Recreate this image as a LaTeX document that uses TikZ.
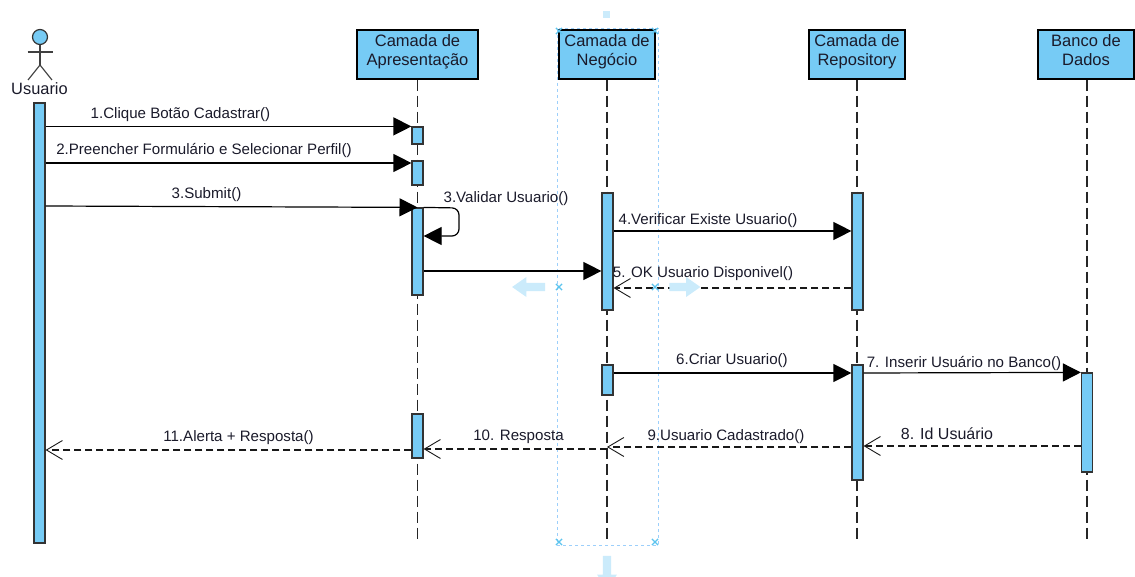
\documentclass[tikz,border=0pt]{standalone}
\usepackage{fontspec}
\setmainfont{Liberation Sans}
\usepackage{xcolor}
\usetikzlibrary{arrows.meta,shapes.misc,shapes.arrows}

\definecolor{barblue}{HTML}{76CBF5}
\definecolor{selblue}{HTML}{9CCFFB}
\definecolor{handleblue}{HTML}{CBEBFB}
\definecolor{marksblue}{HTML}{5CC4EE}
\definecolor{txtdark}{HTML}{1A1A2A}

\begin{document}
\begin{tikzpicture}[
    x=1pt, y=-1pt,
    box/.style={rectangle, draw=black, line width=1.2pt, fill=barblue, minimum height=49pt, inner sep=0pt, align=center, text=txtdark, text depth=9.5pt, font=\fontsize{16.5}{19}\selectfont},
    bar/.style={rectangle, draw=black!80, line width=1.2pt, fill=barblue, minimum width=11pt, inner sep=0pt},
    lifeline/.style={draw=black!85, line width=1.2pt, dash pattern=on 11pt off 5pt},
    msg/.style={-{Triangle[length=18pt,width=18pt]}, line width=1.2pt, black},
    reply/.style={-{Straight Barb[length=16pt,width=19pt,line width=0.9pt]}, line width=1.1pt, black!90, dash pattern=on 7pt off 4pt},
    lbl/.style={font=\fontsize{15.1}{17}\selectfont, text=txtdark, inner sep=0pt},
    selmark/.style={cross out, draw=marksblue, line width=1.2pt, minimum size=5pt, inner sep=0pt},
    handle/.style={single arrow, fill=handleblue, draw=none, minimum width=20pt, single arrow head extend=3.2pt, single arrow tip angle=70, inner sep=2pt}
]
\useasboundingbox (0,0) rectangle (1135,577);

%==============================================================================
% Selection frame
%==============================================================================
\node[draw=selblue, dashed, line width=0.8pt, minimum width=101pt, minimum height=517pt, inner sep=0pt] (selframe) at (607.5,286.5) {};
\node[fill=handleblue, minimum size=7pt, inner sep=0pt] (seltop) at (606.5,15) {};

%==============================================================================
% Lifeline heads
%==============================================================================
\node[box, minimum width=121pt] (apres) at (417.5,54.5) {Camada de\\Apresentação};
\node[box, minimum width=96pt] (negocio) at (607,54.5) {Camada de\\Negócio};
\node[box, minimum width=96pt] (repo) at (857,54.5) {Camada de\\Repository};
\node[box, minimum width=96pt] (banco) at (1086,54.5) {Banco de\\Dados};

% Ends of lifelines
\coordinate (apresEnd) at (417.5,543);
\coordinate (negocioEnd) at (607,543);
\coordinate (repoEnd) at (857,543);
\coordinate (bancoEnd) at (1087,543);

\draw[lifeline] (apres.south) -- (apresEnd);
\draw[lifeline] (negocio.south) -- (negocioEnd);
\draw[lifeline] (repo.south) -- (repoEnd);
\draw[lifeline] (banco.south -| bancoEnd) -- (bancoEnd);

%==============================================================================
% Actor
%==============================================================================
\node[circle, draw=black!80, line width=1.2pt, fill=barblue, minimum size=15pt, inner sep=0pt] (head) at (40,37) {};
\coordinate (hip) at (40,65);
\coordinate (armL) at (27.5,52);
\coordinate (armR) at (52.5,52);
\coordinate (legL) at (28,80);
\coordinate (legR) at (52,80);
\draw[black!75, line width=1.1pt] (head.south) -- (hip);
\draw[black!75, line width=1.1pt] (armL) -- (armR);
\draw[black!75, line width=1.1pt] (legL) -- (hip) -- (legR);
\node[font=\fontsize{16.4}{18}\selectfont, text=txtdark, inner sep=0pt] (usuario) at (39.5,89) {Usuario};

%==============================================================================
% Activation bars
%==============================================================================
\node[bar, minimum height=440pt] (usrbar) at (39.5,323) {};

\node[bar, minimum height=17pt] (ap1) at (417.5,135.5) {};
\node[bar, minimum height=24pt] (ap2) at (417.5,173) {};
\node[bar, minimum height=87pt] (ap3) at (417.5,251.5) {};
\node[bar, minimum height=44pt] (ap4) at (417.5,436) {};

\node[bar, minimum height=117pt] (ne1) at (607.5,251.5) {};
\node[bar, minimum height=30pt] (ne2) at (607.5,380) {};

\node[bar, minimum height=117pt] (re1) at (857.5,251.5) {};
\node[bar, minimum height=115pt] (re2) at (857.5,422.5) {};

\node[bar, minimum height=99pt] (ba1) at (1087,422.5) {};

%==============================================================================
% Messages
%==============================================================================
\draw[msg] (usrbar.east |- ap1.north) -- (ap1.north west);
\draw[msg] (usrbar.east |- 0,163) -- (ap2.west |- 0,163);
\draw[msg] (usrbar.east |- 0,206) -- (ap3.north);
\draw[msg, rounded corners=7pt] (ap3.north east) -- (459,208) -- (459,236) -- (ap3.east |- 0,236);
\draw[msg] (ap3.east |- 0,271) -- (ne1.west |- 0,271);
\draw[msg] (ne1.east |- 0,231) -- (re1.west |- 0,231);
\draw[reply] (re1.west |- 0,288) -- (ne1.east |- 0,288);
\draw[msg] (ne2.east |- 0,373) -- (re2.west |- 0,373);
\draw[msg] (re2.east |- 0,373) -- (ba1.north west);
\draw[reply] (ba1.west |- 0,446) -- (re2.east |- 0,446);
\draw[reply] (re2.west |- 0,447) -- (negocio.south |- 0,447);
\draw[reply] (negocio.south |- 0,449) -- (ap4.east |- 0,449);
\draw[reply] (ap4.west |- 0,450) -- (usrbar.east |- 0,450);

% Message labels
\node[lbl] (m1) at (180.5,114.5) {1.Clique Botão Cadastrar()};
\node[lbl] (m2) at (204,151) {2.Preencher Formulário e Selecionar Perfil()};
\node[lbl] (m3) at (206.5,194.5) {3.Submit()};
\node[lbl] (m3b) at (506,198.5) {3.Validar Usuario()};
\node[lbl] (m4) at (708,220.5) {4.Verificar Existe Usuario()};
\node[lbl] (m5) at (703,274) {5. OK Usuario Disponivel()};
\node[lbl] (m6) at (732,361) {6.Criar Usuario()};
\node[lbl] (m7) at (964,363.5) {7. Inserir Usuário no Banco()};
\node[lbl, font=\fontsize{16}{18}\selectfont] (m8) at (947,433.5) {8. Id Usuário};
\node[lbl] (m9) at (726,436.5) {9.Usuario Cadastrado()};
\node[lbl] (m10) at (518.5,436.5) {10. Resposta};
\node[lbl] (m11) at (238.5,437.5) {11.Alerta + Resposta()};

%==============================================================================
% Selection handles
%==============================================================================
\node[selmark] (selTL) at (559,31) {};
\node[selmark] (selTR) at (655,31) {};
\node[selmark] (selML) at (559,287) {};
\node[selmark] (selMR) at (655,287) {};
\node[selmark] (selBL) at (559,542) {};
\node[selmark] (selBR) at (655,542) {};

\node[handle, shape border rotate=180, minimum height=33pt] (handleL) at (531.5,287) {};
\node[handle, minimum height=31pt] (handleR) at (682,287) {};
\node[handle, shape border rotate=270, minimum height=33pt] (handleB) at (607,569.5) {};

\end{tikzpicture}
\end{document}
